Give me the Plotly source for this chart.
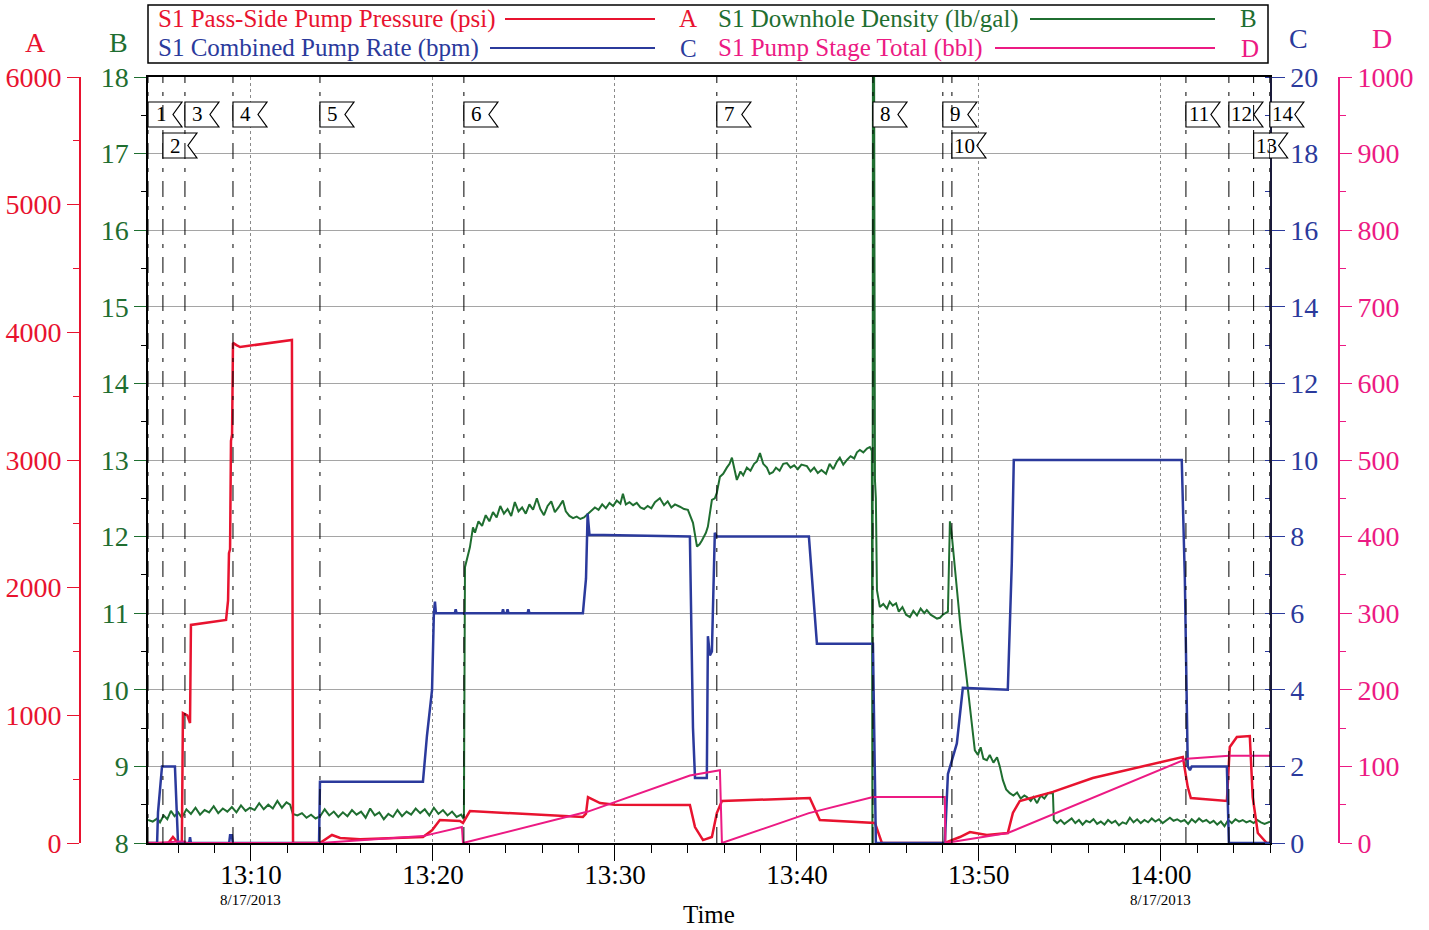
import plotly.graph_objects as go

FONT = "Liberation Serif"
RED = "#e8132f"
BLUE = "#2b3a9c"
GREEN = "#1f6e30"
MAGENTA = "#ec1a83"

# ---- data (time = minutes after 13:00 on 8/17/2013) ----
PRESS_T = [4.34, 5.45, 5.71, 5.99, 6.20, 6.26, 6.50, 6.65, 6.70, 8.63, 8.74, 8.79, 8.85, 8.90, 8.96,
           9.01, 9.20, 9.40, 12.25, 12.31, 13.79, 14.20, 14.45, 14.90, 16.00, 19.45, 19.95, 20.38,
           21.48, 21.65, 22.03, 28.24, 28.41, 28.52, 29.18, 30.00, 34.12, 34.40, 34.84, 35.33,
           35.60, 35.88, 40.71, 41.26, 43.90, 44.29, 44.67, 48.13, 48.96, 49.51, 50.44, 51.59,
           51.87, 52.25, 54.07, 56.26, 61.21, 61.48, 61.65, 63.63, 63.79, 64.18, 64.89, 65.05,
           65.33, 65.82, 66.00]
PRESS_V = [0, 0, 47, 0, 0, 1018, 1000, 940, 1708, 1747, 1900, 2270, 2300, 3150, 3200,
           3917, 3900, 3885, 3940, 0, 0, 40, 63, 40, 30, 47, 100, 180,
           172, 157, 250, 204, 230, 360, 313, 300, 298, 125, 23, 47,
           235, 329, 352, 180, 165, 157, 0, 0, 47, 86, 63, 78,
           235, 329, 400, 509, 674, 438, 352, 329, 752, 830, 838, 360,
           78, 0, 0]

RATE_T = [4.34, 4.84, 4.89, 5.11, 5.82, 5.99, 6.60, 6.65, 6.70, 8.80, 8.85, 8.95, 9.00, 13.74,
          13.79, 19.45, 19.67, 19.95, 20.05, 20.11, 20.16, 21.20, 21.25, 21.30, 23.80, 23.85,
          23.90, 24.05, 24.10, 24.15, 25.20, 25.25, 25.30, 28.24, 28.41, 28.50, 28.60, 34.12,
          34.29, 34.40, 35.05, 35.11, 35.22, 35.33, 35.49, 35.60, 40.66, 41.10, 44.18, 44.34,
          48.13, 48.30, 48.79, 49.12, 51.59, 51.81, 51.92, 61.15, 61.32, 61.48, 61.60, 61.70,
          63.63, 63.74, 66.00]
RATE_V = [0, 0, 0.8, 2.0, 2.0, 0, 0, 0.15, 0, 0, 0.2, 0.2, 0, 0,
          1.6, 1.6, 2.8, 4.0, 6.0, 6.3, 6.0, 6.0, 6.1, 6.0, 6.0, 6.1,
          6.0, 6.0, 6.1, 6.0, 6.0, 6.1, 6.0, 6.0, 6.9, 8.6, 8.05, 8.0,
          3.0, 1.7, 1.7, 5.4, 4.9, 5.0, 8.1, 8.0, 8.0, 5.2, 5.2, 0,
          0, 1.8, 2.6, 4.05, 4.0, 7.3, 10.0, 10.0, 6.9, 2.0, 1.9, 2.0,
          2.0, 0, 0]

TOTAL_T = [4.34, 4.89, 5.99, 6.37, 6.40, 13.79, 19.45, 21.59, 21.65, 28.52, 34.12, 35.77, 35.88,
           40.66, 44.18, 48.13, 48.16, 51.59, 61.43, 63.74, 66.00]
TOTAL_V = [0, 0, 2, 2, 0, 0, 9, 21, 0, 41, 88, 95, 0,
           39, 60, 60, 0, 13, 110, 114, 114]

DENS_T = [4.34, 4.60, 4.85, 5.00, 5.20, 5.40, 5.60, 5.80, 6.00, 6.20, 6.45, 6.70, 6.95, 7.20,
          7.45, 7.70, 7.95, 8.20, 8.45, 8.70, 8.95, 9.20, 9.45, 9.70, 9.95, 10.20, 10.45, 10.70,
          10.95, 11.20, 11.45, 11.70, 11.95, 12.15, 12.30, 12.55, 12.80, 13.05, 13.30, 13.55,
          13.80, 14.05, 14.30, 14.55, 14.80, 15.05, 15.30, 15.55, 15.80, 16.05, 16.30, 16.55,
          16.80, 17.05, 17.30, 17.55, 17.80, 18.05, 18.30, 18.55, 18.80, 19.05, 19.30, 19.55,
          19.80, 20.05, 20.30, 20.55, 20.80, 21.05, 21.30, 21.55, 21.70,
          21.76, 22.03, 22.20, 22.31, 22.50, 22.70, 22.90, 23.10, 23.30, 23.50, 23.70, 23.90,
          24.10, 24.30, 24.50, 24.70, 24.90, 25.10, 25.30, 25.50, 25.71, 25.90, 26.10, 26.30,
          26.50, 26.70, 26.90, 27.14, 27.30, 27.50, 27.70, 27.90, 28.10, 28.30, 28.52, 28.70,
          28.90, 29.10, 29.30, 29.50, 29.70, 29.90, 30.10, 30.30, 30.44, 30.60, 30.80, 31.00,
          31.20, 31.40, 31.60, 31.80, 32.00, 32.20, 32.47, 32.70, 32.90, 33.10, 33.30, 33.57,
          33.80, 34.01, 34.29, 34.51, 34.65, 34.78, 35.00, 35.11, 35.33, 35.49, 35.60, 35.77,
          35.95, 36.15, 36.30, 36.43, 36.55, 36.70, 36.90, 37.05, 37.25, 37.45, 37.65, 37.80,
          37.97, 38.15, 38.35, 38.50, 38.68, 38.85, 39.05, 39.25, 39.45, 39.65, 39.85, 40.05,
          40.25, 40.55, 40.75, 40.95, 41.15, 41.35, 41.60, 41.80, 42.00, 42.20, 42.36, 42.55,
          42.75, 42.95, 43.15, 43.30, 43.46, 43.65, 43.85, 44.01, 44.12, 44.15, 44.18, 44.24,
          44.29, 44.34, 44.40, 44.56, 44.75, 44.95, 45.10, 45.27, 45.45, 45.60, 45.80, 46.00,
          46.21, 46.40, 46.60, 46.80, 47.00, 47.14, 47.35, 47.55, 47.70, 47.86, 48.02, 48.30,
          48.35, 48.41, 48.50, 48.57, 48.79, 49.00, 49.34, 49.55, 49.78, 49.95, 50.10, 50.25,
          50.44, 50.60, 50.80, 51.00, 51.15, 51.32, 51.50, 51.70, 51.90, 52.10, 52.30, 52.50,
          52.64, 52.85, 53.00, 53.20, 53.40, 53.60, 53.80, 54.07, 54.12, 54.30, 54.50, 54.70,
          54.90, 55.10, 55.30, 55.50, 55.70, 55.90, 56.10, 56.30, 56.50, 56.70, 56.90, 57.10,
          57.30, 57.50, 57.70, 57.90, 58.10, 58.30, 58.50, 58.70, 58.90, 59.10, 59.30, 59.50,
          59.70, 59.90, 60.10, 60.30, 60.50, 60.70, 60.90, 61.10, 61.30, 61.50, 61.70, 61.90,
          62.10, 62.30, 62.50, 62.70, 62.90, 63.10, 63.30, 63.50, 63.70, 63.90, 64.10, 64.30,
          64.50, 64.70, 64.90, 65.10, 65.30, 65.50, 65.70, 66.00]
DENS_V = [8.30, 8.28, 8.32, 8.27, 8.36, 8.31, 8.42, 8.35, 8.40, 8.33, 8.44, 8.38, 8.46, 8.37,
          8.43, 8.40, 8.48, 8.39, 8.45, 8.41, 8.47, 8.40, 8.49, 8.42, 8.46, 8.43, 8.52, 8.44,
          8.50, 8.45, 8.55, 8.46, 8.53, 8.50, 8.38, 8.36, 8.39, 8.33, 8.37, 8.32,
          8.35, 8.44, 8.36, 8.41, 8.34, 8.40, 8.35, 8.43, 8.37, 8.41, 8.33, 8.45,
          8.36, 8.40, 8.31, 8.38, 8.34, 8.43, 8.35, 8.41, 8.37, 8.45, 8.39, 8.44,
          8.36, 8.46, 8.38, 8.43, 8.36, 8.41, 8.34, 8.37, 8.31,
          11.60, 11.86, 12.12, 12.05, 12.20, 12.14, 12.28, 12.20, 12.32, 12.25, 12.40, 12.30,
          12.36, 12.27, 12.45, 12.33, 12.38, 12.30, 12.42, 12.35, 12.50, 12.36, 12.28, 12.40,
          12.46, 12.32, 12.38, 12.47, 12.33, 12.27, 12.24, 12.26, 12.23, 12.25, 12.30, 12.33,
          12.38, 12.35, 12.42, 12.37, 12.44, 12.40, 12.47, 12.43, 12.56, 12.42, 12.45, 12.41,
          12.44, 12.38, 12.36, 12.40, 12.37, 12.45, 12.50, 12.41, 12.46, 12.38, 12.42, 12.39,
          12.36, 12.35, 12.18, 11.87, 11.90, 11.95, 12.05, 12.13, 12.48, 12.50, 12.57, 12.78,
          12.82, 12.90, 12.95, 13.03, 12.90, 12.74, 12.85, 12.80, 12.90, 12.86, 12.95, 12.98,
          13.09, 12.95, 12.90, 12.82, 12.84, 12.90, 12.86, 12.95, 12.96, 12.90, 12.93, 12.88,
          12.94, 12.92, 12.85, 12.90, 12.83, 12.87, 12.82, 12.95, 12.88, 12.98, 13.03, 12.94,
          13.00, 13.05, 13.02, 13.10, 13.13, 13.10, 13.15, 13.17, 13.12, 8.00, 18.50, 18.50,
          12.74, 12.50, 11.30, 11.08, 11.12, 11.06, 11.15, 11.10, 11.13, 11.02, 11.08, 10.98,
          10.95, 11.03, 10.97, 11.06, 11.00, 11.04, 10.98, 10.95, 10.93, 10.94, 10.98, 11.02,
          11.50, 12.20, 12.05, 11.87, 11.34, 10.80, 10.13, 9.70, 9.21, 9.15, 9.25, 9.10,
          9.08, 9.15, 9.05, 9.12, 9.00, 8.82, 8.70, 8.65, 8.62, 8.66, 8.58, 8.62,
          8.60, 8.55, 8.60, 8.52, 8.62, 8.58, 8.65, 8.65, 8.30, 8.26, 8.30, 8.25,
          8.28, 8.32, 8.26, 8.30, 8.24, 8.29, 8.27, 8.31, 8.25, 8.28, 8.24, 8.30,
          8.26, 8.29, 8.23, 8.27, 8.25, 8.33, 8.27, 8.31, 8.26, 8.30, 8.27, 8.32,
          8.28, 8.31, 8.26, 8.30, 8.33, 8.29, 8.31, 8.28, 8.30, 8.25, 8.31, 8.27,
          8.32, 8.28, 8.30, 8.26, 8.29, 8.24, 8.28, 8.22, 8.30, 8.26, 8.31, 8.28,
          8.30, 8.27, 8.29, 8.26, 8.30, 8.27, 8.25, 8.28]

EVENT_T = [4.34, 5.16, 6.37, 9.01, 13.79, 21.70, 35.60, 44.18, 48.02, 48.52, 61.38, 63.74, 65.10, 65.99]
EVENT_ROW = [1, 2, 1, 1, 1, 1, 1, 1, 1, 2, 1, 1, 2, 1]
EVENT_LABELS = [str(i) for i in range(1, 15)]

XTICK_VALS = [10, 20, 30, 40, 50, 60]
XTICK_TIME = ["13:10", "13:20", "13:30", "13:40", "13:50", "14:00"]
XTICK_DATE = ["8/17/2013", "", "", "", "", "8/17/2013"]

LEGEND = [
    ("S1 Pass-Side Pump Pressure (psi)", "A", RED),
    ("S1 Downhole Density (lb/gal)", "B", GREEN),
    ("S1 Combined Pump Rate (bpm)", "C", BLUE),
    ("S1 Pump Stage Total (bbl)", "D", MAGENTA),
]

# ---- layout geometry ----
W, H = 1429, 930
X_RANGE = [4.34, 66.0]
def px(x):
    return x / W
def py(y):
    return 1 - y / H
XDOM = [px(148), px(1270)]
YDOM = [py(843), py(77)]
def tx(t):
    return XDOM[0] + (t - X_RANGE[0]) / (X_RANGE[1] - X_RANGE[0]) * (XDOM[1] - XDOM[0])

fig = go.Figure()
fig.add_trace(go.Scatter(x=TOTAL_T, y=TOTAL_V, yaxis="y4", mode="lines",
                         line=dict(color=MAGENTA, width=2), name="S1 Pump Stage Total (bbl)"))
fig.add_trace(go.Scatter(x=PRESS_T, y=PRESS_V, yaxis="y2", mode="lines",
                         line=dict(color=RED, width=2.5), name="S1 Pass-Side Pump Pressure (psi)"))
fig.add_trace(go.Scatter(x=RATE_T, y=RATE_V, yaxis="y3", mode="lines",
                         line=dict(color=BLUE, width=2.5), name="S1 Combined Pump Rate (bpm)"))
fig.add_trace(go.Scatter(x=DENS_T, y=DENS_V, yaxis="y", mode="lines",
                         line=dict(color=GREEN, width=2), name="S1 Downhole Density (lb/gal)"))

tickfont = lambda c, s=28: dict(family=FONT, size=s, color=c)

fig.update_layout(
    width=W, height=H, margin=dict(l=0, r=0, t=0, b=0, autoexpand=False),
    paper_bgcolor="white", plot_bgcolor="white", showlegend=False,
    font=dict(family=FONT, color="black"),
    xaxis=dict(domain=XDOM, range=X_RANGE, tickmode="array", tickvals=XTICK_VALS,
               ticktext=XTICK_TIME, ticks="outside", ticklen=16, tickcolor="black",
               tickfont=tickfont("black", 27), ticklabelstandoff=-9,
               showline=True, linecolor="black", linewidth=1.5,
               mirror=True, showgrid=True, gridcolor="#8a8a8a", griddash="dot", gridwidth=1,
               zeroline=False, anchor="y",
               minor=dict(tickmode="linear", tick0=0, dtick=2, ticks="outside", ticklen=8,
                          tickcolor="black", showgrid=False)),
    yaxis=dict(domain=YDOM, range=[8, 18], dtick=1, side="left", anchor="x",
               ticks="outside", ticklen=12, tickcolor=GREEN, tickfont=tickfont(GREEN),
               showline=True, linecolor="black", linewidth=1.5, showgrid=True,
               gridcolor="#a5a5a5", gridwidth=1, zeroline=False,
               minor=dict(dtick=0.5, ticks="outside", ticklen=5, tickcolor="black", showgrid=False)),
    yaxis2=dict(overlaying="y", anchor="free", position=px(80), side="left", range=[0, 6000],
                dtick=1000, ticks="outside", ticklen=12, tickcolor=RED, tickfont=tickfont(RED),
                showline=True, linecolor=RED, linewidth=2, showgrid=False, zeroline=False,
                minor=dict(dtick=500, ticks="outside", ticklen=6, tickcolor=RED)),
    yaxis3=dict(overlaying="y", anchor="x", side="right", range=[0, 20], dtick=2,
                ticks="outside", ticklen=13, tickcolor=BLUE, tickfont=tickfont(BLUE),
                showline=True, linecolor="#1a1a3a", linewidth=1.5, showgrid=False, zeroline=False,
                minor=dict(dtick=1, ticks="inside", ticklen=5, tickcolor=BLUE)),
    yaxis4=dict(overlaying="y", anchor="free", position=px(1339), side="right", range=[0, 1000],
                dtick=100, ticks="outside", ticklen=12, tickcolor=MAGENTA,
                tickfont=tickfont(MAGENTA), showline=True, linecolor=MAGENTA, linewidth=2,
                showgrid=False, zeroline=False,
                minor=dict(dtick=50, ticks="outside", ticklen=6, tickcolor=MAGENTA)),
)

shapes = []
annotations = []

# event markers (dash-dot vertical lines + notched flags)
ROWS = {1: (102, 127), 2: (133, 158)}
for t, row, lab in zip(EVENT_T, EVENT_ROW, EVENT_LABELS):
    shapes.append(dict(type="line", xref="x", yref="paper", x0=t, x1=t, y0=YDOM[0], y1=YDOM[1],
                       line=dict(color="black", width=1, dash="16px,9px,4px,9px"), layer="above"))
    x0 = tx(t)
    x1 = x0 + 34 / W
    notch = 9 / W
    yt, yb = py(ROWS[row][0]), py(ROWS[row][1])
    ym = (yt + yb) / 2
    path = f"M {x0},{yt} L {x1},{yt} L {x1 - notch},{ym} L {x1},{yb} L {x0},{yb} Z"
    shapes.append(dict(type="path", xref="paper", yref="paper", path=path,
                       fillcolor="white", line=dict(color="black", width=1.2), layer="above"))
    annotations.append(dict(xref="paper", yref="paper", x=x0 + 13 / W, y=ym, text=lab,
                            showarrow=False, xanchor="center", yanchor="middle",
                            font=dict(family=FONT, size=21, color="black")))

# date lines under first and last time labels
for v, d in zip(XTICK_VALS, XTICK_DATE):
    if d:
        annotations.append(dict(xref="x", yref="paper", x=v, y=py(900), text=d,
                                showarrow=False, xanchor="center", yanchor="middle",
                                font=dict(family=FONT, size=15, color="black")))

# legend box
shapes.append(dict(type="rect", xref="paper", yref="paper", x0=px(148), x1=px(1268),
                   y0=py(63), y1=py(5), line=dict(color="black", width=1.5), fillcolor="white",
                   layer="above"))
LEG_POS = [  # text x, line x0, line x1, letter x, row y
    (156, 505, 655, 688, 19),
    (716, 1030, 1215, 1248, 19),
    (156, 490, 655, 688, 48),
    (716, 995, 1215, 1250, 48),
]
for (txt, letter, col), (tx0, lx0, lx1, ltx, ry) in zip(LEGEND, LEG_POS):
    annotations.append(dict(xref="paper", yref="paper", x=px(tx0), y=py(ry), text=txt,
                            showarrow=False, xanchor="left", yanchor="middle",
                            font=dict(family=FONT, size=25, color=col)))
    shapes.append(dict(type="line", xref="paper", yref="paper", x0=px(lx0), x1=px(lx1),
                       y0=py(ry), y1=py(ry), line=dict(color=col, width=2), layer="above"))
    annotations.append(dict(xref="paper", yref="paper", x=px(ltx), y=py(ry), text=letter,
                            showarrow=False, xanchor="center", yanchor="middle",
                            font=dict(family=FONT, size=25, color=col)))

# axis letters
for letter, col, x, y in [("A", RED, 35, 42), ("B", GREEN, 118, 42),
                          ("C", BLUE, 1298, 38), ("D", MAGENTA, 1382, 38)]:
    annotations.append(dict(xref="paper", yref="paper", x=px(x), y=py(y), text=letter,
                            showarrow=False, xanchor="center", yanchor="middle",
                            font=dict(family=FONT, size=28, color=col)))

annotations.append(dict(xref="paper", yref="paper", x=px(709), y=py(914), text="Time",
                        showarrow=False, xanchor="center", yanchor="middle",
                        font=dict(family=FONT, size=25, color="black")))

fig.update_layout(shapes=shapes, annotations=annotations)

fig.write_html("out.html", config={"displayModeBar": False},
               post_script="document.body.style.margin='0px';document.body.style.overflow='hidden';")
